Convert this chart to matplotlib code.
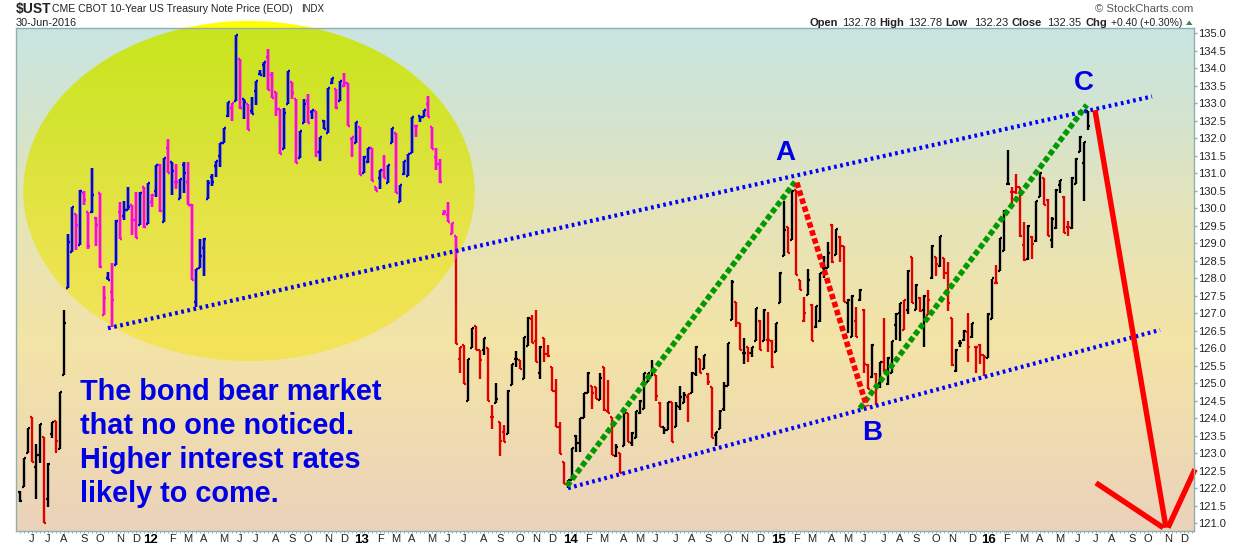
import numpy as np
import matplotlib
matplotlib.use("Agg")
import matplotlib.pyplot as plt
from matplotlib.path import Path
from matplotlib.patches import PathPatch
from matplotlib.transforms import Affine2D, IdentityTransform
from matplotlib.colors import to_rgb

plt.rcParams['font.family'] = ['Liberation Sans', 'DejaVu Sans']

highs = [
 121.93,122.86,123.72,124.03,123.27,123.83,123.48,122.72,123.89,123.94,124.75,127.1,
 129.27,130.03,129.84,130.53,130.49,129.91,131.17,129.75,130.43,127.78,128.18,128.43,129.67,130.18,130.2,130.6,130.09,130.47,130.47,130.62,130.74,130.41,131.24,131.27,131.43,131.98,131.34,131.27,130.83,131.33,131.33,130.13,128.26,129.12,129.15,
 130.81,130.99,131.37,131.86,132.29,133.05,133.0,134.95,134.26,133.14,132.98,133.18,133.65,133.96,134.18,134.55,133.89,133.34,132.83,132.86,133.94,133.62,133.12,132.2,133.12,133.27,132.81,132.79,132.03,132.53,133.43,133.72,133.4,133.64,133.86,133.59,132.03,132.48,132.32,131.5,131.72,131.72,130.62,131.1,131.53,131.24,132.29,132.15,130.66,131.35,131.56,132.6,132.37,132.64,132.81,133.21,132.32,131.72,131.4,
 129.96,130.19,129.58,129.21,
 126.05,126.1,125.71,126.58,126.65,125.96,126.29,126.02,124.39,125.0,123.91,123.81,124.81,125.55,125.93,125.67,126.32,126.91,126.96,127.1,126.07,126.29,126.1,125.48,125.12,123.91,122.77,122.24,123.15,123.53,124.02,124.72,125.34,124.93,124.89,125.29,125.46,125.1,124.03,123.27,123.0,124.17,124.15,123.6,124.2,124.53,125.31,125.31,125.67,125.24,124.48,123.77,124.48,124.48,124.48,124.93,124.77,124.7,125.34,126.07,125.69,125.81,125.29,124.89,123.62,124.24,125.05,126.15,127.96,127.34,
 126.74,126.29,126.05,126.05,127.15,126.8,127.12,127.05,126.24,126.72,128.18,130.21,129.48,130.53,130.53,127.97,127.46,128.26,127.26,127.21,128.17,128.64,129.05,129.56,129.4,129.2,128.93,127.4,127.53,127.19,127.69,127.12,125.56,126.13,125.29,125.62,126.86,125.77,126.22,127.0,127.31,127.38,128.24,128.6,127.84,127.46,127.53,127.67,128.95,128.62,129.2,128.58,128.48,126.86,125.98,126.24,126.53,127.0,126.74,126.05,126.13,125.81,127.0,127.98,128.38,129.15,129.96,131.67,130.62,130.98,130.62,129.6,129.53,129.2,130.2,131.02,130.86,130.26,129.75,130.55,130.8,130.36,129.64,130.89,131.43,132.07,131.91,132.78]
lows = [
 121.62,122.05,123.0,122.77,121.71,122.74,121.0,121.46,123.43,123.0,123.12,125.24,
 127.73,128.76,128.8,128.95,130.11,128.83,129.86,128.93,128.29,126.95,127.96,126.6,128.38,129.12,129.67,129.97,129.25,129.15,129.52,129.43,129.56,130.03,130.34,129.91,129.62,131.0,130.38,130.55,130.26,130.45,130.1,127.97,127.19,128.29,128.07,
 130.26,130.64,130.89,131.18,131.86,132.62,132.51,133.07,132.83,132.57,132.24,132.69,132.95,133.8,133.75,133.38,133.15,132.65,131.55,131.69,132.98,133.12,131.29,131.43,132.43,132.43,132.55,131.46,131.37,132.26,132.17,133.56,132.83,133.07,133.48,132.36,131.48,131.86,130.96,131.02,131.29,130.79,130.49,130.55,130.86,130.72,131.86,130.45,130.19,130.97,130.93,131.58,132.05,132.48,132.6,132.6,131.69,131.1,130.74,
 129.82,129.62,129.27,126.13,
 125.31,124.98,124.5,126.0,125.96,125.12,125.8,124.5,123.69,124.43,122.94,123.34,123.55,124.96,125.46,125.4,125.12,126.07,126.15,125.6,125.12,125.6,125.77,124.78,123.77,122.99,122.13,122.0,122.24,123.05,123.05,124.0,124.72,124.27,124.55,124.53,124.22,124.17,122.96,122.89,122.43,123.22,123.32,123.2,123.43,124.13,124.27,125.05,125.2,124.51,123.75,123.56,123.67,123.34,123.75,124.24,124.43,123.91,124.72,125.2,125.29,125.4,124.96,123.43,123.2,123.69,124.2,124.93,126.81,126.62,
 125.96,125.56,125.62,125.75,126.2,125.96,126.2,125.89,125.43,125.91,127.29,128.64,128.74,129.1,128.1,127.67,126.77,127.53,126.2,126.58,126.77,128.0,128.29,128.45,128.67,128.48,127.34,126.43,126.32,126.34,127.37,125.29,124.83,125.15,124.39,124.86,125.34,124.96,125.29,126.24,126.2,126.53,126.98,127.31,127.1,127.05,126.05,126.96,127.98,128.07,128.34,127.98,127.08,125.5,125.34,126.03,126.2,125.62,126.29,125.31,125.56,125.21,125.72,126.83,127.86,128.2,128.79,130.7,130.13,130.4,129.18,128.51,128.53,128.56,129.05,130.32,130.1,129.2,128.86,129.4,130.43,129.31,129.2,129.4,130.7,131.62,130.22,132.23]
opens = [
 121.9,122.05,123.0,124.03,122.62,122.95,123.48,121.69,123.57,123.94,123.12,125.24,
 127.73,128.76,129.84,128.95,130.45,129.91,129.9,129.73,130.43,126.96,128.01,127.62,128.38,129.9,129.78,129.97,130.09,129.67,129.52,130.62,129.56,130.19,130.51,131.24,129.62,131.72,131.34,130.77,130.26,131.24,130.77,130.1,127.34,128.29,128.86,
 130.26,130.89,131.22,131.5,131.86,132.64,132.88,133.07,134.26,133.14,132.98,132.79,133.35,133.84,134.11,134.34,133.8,133.34,132.83,131.69,132.99,133.62,133.12,131.43,132.43,133.08,132.77,132.79,131.62,132.51,132.17,133.59,133.4,133.07,133.5,133.59,131.98,131.86,132.32,131.02,131.34,131.72,130.6,130.88,131.1,130.74,131.86,132.15,130.19,130.99,130.93,131.58,132.37,132.64,132.62,132.99,132.32,131.46,131.27,
 129.83,129.8,129.27,129.21,
 125.69,126.1,124.5,126.0,126.65,125.96,125.96,126.02,124.05,124.43,123.91,123.62,123.55,124.96,125.69,125.67,125.12,126.07,126.83,126.2,125.29,126.29,125.84,125.48,124.79,123.77,122.77,122.13,122.24,123.5,123.31,124.0,124.72,124.93,124.89,124.53,125.46,124.22,124.03,122.93,123.0,123.22,124.15,123.29,123.43,124.15,124.27,125.05,125.21,125.24,124.43,123.75,123.67,124.48,123.77,124.34,124.43,124.62,124.72,125.27,125.69,125.4,125.27,124.89,123.53,123.69,124.26,124.93,126.81,127.34,
 126.74,125.86,126.05,125.86,126.2,126.79,126.2,126.24,126.22,125.91,127.31,128.64,129.48,129.1,130.53,127.96,126.79,127.53,127.24,126.6,126.79,128.29,128.29,129.53,128.67,129.18,128.93,127.31,126.34,126.79,127.39,127.1,125.53,125.18,125.27,125.0,125.62,124.99,125.31,126.67,127.02,126.53,127.1,128.6,127.1,127.43,127.1,126.96,128.0,128.62,128.36,128.58,128.15,126.86,125.37,126.15,126.24,126.48,126.34,126.03,126.1,125.81,125.72,126.83,127.88,128.2,128.79,130.7,130.48,130.48,130.62,128.96,128.55,129.18,129.08,130.34,130.86,130.24,129.1,129.43,130.67,130.34,129.46,129.43,130.7,131.62,131.31,132.78]
closes = [
 121.65,122.86,123.72,122.77,122.96,123.83,121.0,122.7,123.89,123.37,124.75,126.74,
 129.05,130.03,129.53,130.51,130.24,128.93,130.38,129.53,128.32,127.45,127.97,127.38,129.65,129.14,129.97,130.03,129.67,129.17,130.45,129.46,130.74,130.39,131.24,129.93,131.43,131.02,131.08,130.75,130.83,131.02,130.1,127.97,128.26,128.64,129.13,
 130.74,130.77,131.37,131.86,132.29,133.05,133.0,134.95,132.86,133.05,132.24,132.69,133.65,133.81,134.18,133.39,133.15,132.83,131.55,132.74,133.94,133.31,131.29,132.2,132.99,132.43,132.81,131.62,132.03,132.26,133.43,133.72,132.86,133.64,133.59,132.36,132.03,132.48,130.96,131.48,131.72,130.79,130.51,131.1,130.86,131.24,132.29,130.45,130.66,131.35,131.56,132.6,132.36,132.62,132.81,132.62,131.69,131.27,130.76,
 129.9,129.62,129.58,126.13,
 126.05,124.98,125.71,126.58,125.96,125.67,126.29,124.5,124.05,124.55,123.36,123.34,124.79,125.55,125.69,125.4,126.32,126.86,126.15,125.6,126.05,125.84,125.79,124.79,123.77,122.99,122.13,122.24,123.15,123.29,124.02,124.72,125.31,124.72,124.55,125.15,124.24,124.17,122.96,123.19,122.43,124.17,123.32,123.58,124.2,124.51,125.29,125.31,125.43,124.64,123.75,123.67,124.48,123.34,124.36,124.62,124.67,124.7,125.31,126.05,125.31,125.81,125.05,123.43,123.6,124.22,124.93,126.15,127.9,126.72,
 125.96,125.86,125.86,126.05,127.15,125.96,127.1,126.24,125.46,126.72,128.17,129.38,128.74,130.51,128.1,127.67,127.0,127.96,126.2,127.2,128.17,128.29,128.72,128.48,129.4,128.93,127.34,127.39,127.5,126.34,127.67,125.56,124.83,126.1,124.39,125.6,125.39,125.72,126.2,126.98,127.29,127.38,128.22,127.31,127.81,127.08,127.5,127.39,128.93,128.41,129.2,128.15,127.29,125.53,125.96,126.17,126.51,126.03,126.74,126.03,125.81,125.75,126.98,128.0,127.88,129.15,129.94,130.7,130.48,130.62,129.2,128.53,129.5,128.99,130.2,131.02,130.1,129.2,129.69,130.53,130.8,129.31,129.46,130.86,131.4,132.05,131.91,132.35]
directions = ("kkkrkkrkkrkk"
              "kkrkrrkrrrkrkrkkrrkrkrkrkrkrkkrrkkk"
              "kkkkkkrkrkrkkkkrrrrkkrrkkrkrkkkkrkrrrkrkkrrkrkkrkkkkrkkrrrr"
              "rrrr"
              "rrkkrrkrrkrrkkkrkkrrkrrrrrrkkkkkkrrkrrrkrkrkkkkkkrrkkrkkkrkkrkrrkkkkkr"
              "rkrkkrkrrkkkrkrrrkrkkkkrkrrkkrkrrkrkrkkkkrkrkrkrkrkrrrkkkrkrrrkkrkkkrrrrkrkkrrkkkrrkkkkk")
n = len(highs)
weeks = np.arange(n)
assert len(lows) == n and len(opens) == n and len(closes) == n and len(directions) == n, (n, len(lows), len(opens), len(closes), len(directions))

month_weeks = [3,7,11,16,20,25,29,32.5,38,42,46,51,55,59,64,68,72,77,81,85.5,90,94,98,103,107,111,116,120,125,129,133,137.75,142,146,151,155,159,164,168,172,177,181,185,189.75,194,198,203,207,211,216,220,224,229,233,238,242,246.5,251,255,260,264.5,269,273,278,282,287,291]
month_labels = ['J','J','A','S','O','N','D','12','F','M','A','M','J','J','A','S','O','N','D','13','F','M','A','M','J','J','A','S','O','N','D','14','F','M','A','M','J','J','A','S','O','N','D','15','F','M','A','M','J','J','A','S','O','N','D','16','F','M','A','M','J','J','A','S','O','N','D']
year_labels = ['12','13','14','15','16']
price_ticks = np.arange(121.0, 135.01, 0.5)

upper_channel = ([22, 283], [126.58, 133.2])
lower_channel = ([137, 285], [122.01, 126.53])
green_legs = [([136.75, 193.75], [122.07, 130.76]), ([210, 266.7], [124.29, 132.96])]
red_leg = ([194.2, 211.7], [130.74, 124.34])
forecast_drop = ([268.75, 286.5], [132.81, 120.88])
forecast_left = ([269, 285.8], [122.16, 120.88])
forecast_right = ([287, 293.75], [120.88, 122.55])

W, H = 1240, 546
fig = plt.figure(figsize=(W/100, H/100), dpi=100, facecolor='white')
L, R, T, B = 16, 1194, 28.3, 530.7
ax = fig.add_axes([L/W, 1-B/H, (R-L)/W, (B-T)/H], zorder=1)
ax.set_xlim((L-20)/4, (R-20)/4)
ax.set_ylim(135-(B-33.5)/35, 135-(T-33.5)/35)

stops = [(0.0,'#c9e5e1'),(0.18,'#d4e4cf'),(0.38,'#e6e3b8'),(0.62,'#f3e4a6'),(0.80,'#efdcb0'),(1.0,'#ebd2bb')]
ys = np.linspace(0, 1, 256)
grad = np.stack([np.interp(ys, [s[0] for s in stops], [to_rgb(s[1])[c] for s in stops]) for c in range(3)], axis=1)[:, None, :]
ax.imshow(grad, aspect='auto', extent=ax.get_xlim()+ax.get_ylim(), origin='upper', zorder=0, interpolation='bilinear')
ax.set_xlim((L-20)/4, (R-20)/4)
ax.set_ylim(135-(B-33.5)/35, 135-(T-33.5)/35)

cx, cy, ea, eb = 249, 191, 225.7, 170
ell = Path.unit_circle().transformed(Affine2D().scale(ea, eb).translate(cx, H-cy))
fig.add_artist(PathPatch(ell, transform=IdentityTransform(), fc='#ffff00', ec='none', zorder=0))
g2 = grad.copy(); g2[..., 2] = 1-g2[..., 2]
im2 = ax.imshow(g2, aspect='auto', extent=ax.get_xlim()+ax.get_ylim(), origin='upper', zorder=1, interpolation='bilinear')
im2.set_clip_path(ell, IdentityTransform())
ax.set_xlim((L-20)/4, (R-20)/4)
ax.set_ylim(135-(B-33.5)/35, 135-(T-33.5)/35)

def draw_bars(up, down, z, clip=None):
    cols = [up if d == 'k' else down for d in directions]
    arts = [ax.vlines(weeks, lows, highs, colors=cols, lw=1.7, zorder=z),
            ax.hlines(opens, weeks-0.6, weeks, colors=cols, lw=1.6, zorder=z),
            ax.hlines(closes, weeks, weeks+0.6, colors=cols, lw=1.6, zorder=z)]
    if clip is not None:
        for a in arts:
            a.set_clip_path(clip, IdentityTransform())

draw_bars('#000000', '#e00000', 2)
draw_bars('#0000ff', '#ff00ff', 3, ell)

for xs, ps in (upper_channel, lower_channel):
    ax.plot(xs, ps, color='#0000ff', lw=3.0, ls=(0, (0.65, 0.85)), dash_capstyle='butt', zorder=4)
for xs, ps in green_legs:
    ax.plot(xs, ps, color='#009a00', lw=4.0, ls=(0, (1.0, 0.5)), dash_capstyle='butt', zorder=5)
ax.plot(*red_leg, color='#ff0000', lw=4.0, ls=(0, (1.0, 0.5)), dash_capstyle='butt', zorder=5)
for xs, ps in (forecast_drop, forecast_left, forecast_right):
    ax.plot(xs, ps, color='#ff0000', lw=3.9, solid_capstyle='butt', zorder=6, clip_on=False)

spine = '#8fb0b0'
for s in ('top','bottom','left','right'):
    ax.spines[s].set_color(spine); ax.spines[s].set_linewidth(1.0); ax.spines[s].set_zorder(8)
ax.yaxis.tick_right()
ax.set_yticks(price_ticks)
ax.set_yticklabels([f'{p:.1f}' for p in price_ticks], fontsize=8, color='#222222')
ax.tick_params(axis='y', length=2.5, width=1, color=spine, pad=0.5)
ax.set_xticks(month_weeks)
ax.set_xticklabels(month_labels, fontsize=8, color='#222222')
ax.set_xticks(np.arange(0, 294), minor=True)
ax.tick_params(axis='x', which='major', length=1.5, width=0.7, color=spine, pad=0.8)
ax.tick_params(axis='x', which='minor', length=1.5, width=0.7, color=spine)
for t in ax.get_xticklabels():
    if t.get_text() in year_labels:
        t.set_fontweight('bold'); t.set_fontsize(9.5); t.set_color('black')

def ft(x, y, s, **k):
    k.setdefault('va', 'center'); k.setdefault('color', '#222222')
    fig.text(x/W, 1-y/H, s, **k)

ft(16, 9.5, '$UST', fontsize=10, fontweight='bold')
ft(52.5, 9.5, 'CME CBOT 10-Year US Treasury Note Price (EOD)', fontsize=7.6)
ft(301, 9.5, 'INDX', fontsize=7)
ft(16, 22.5, '30-Jun-2016', fontsize=7.8)
ft(1193, 9.5, '© StockCharts.com', fontsize=8.2, ha='right', color='#555555')
for x, s, bold, size in [(809,'Open',True,8),(841.7,'132.78',False,8),(879.7,'High',True,8),(907.7,'132.78',False,8),
                         (945.7,'Low',True,8),(974,'132.23',False,8),(1012,'Close',True,8),(1047,'132.35',False,8),
                         (1086,'Chg',True,8),(1110.7,'+0.40 (+0.30%)',False,7.5)]:
    ft(x, 22.5, s, fontsize=size, fontweight='bold' if bold else 'normal')
fig.add_artist(PathPatch(Path([(1186,H-25),(1192.5,H-25),(1189.2,H-20.5),(1186,H-25)]),
                         transform=IdentityTransform(), fc='#2e8b57', ec='none'))

body = ['The bond bear market', 'that no one noticed.', 'Higher interest rates', 'likely to come.']
for y, s in zip([392.5, 426.5, 460.5, 494.5], body):
    ft(79.5, y, s, fontsize=20.8, fontweight='bold', color='#0000e6', zorder=10)
for x, y, s in [(785,153.5,'A'),(872,433.5,'B'),(1084,83.5,'C')]:
    ft(x, y, s, fontsize=20, fontweight='bold', color='#0000e6', ha='center', zorder=10)

fig.savefig('out.png', dpi=100)
